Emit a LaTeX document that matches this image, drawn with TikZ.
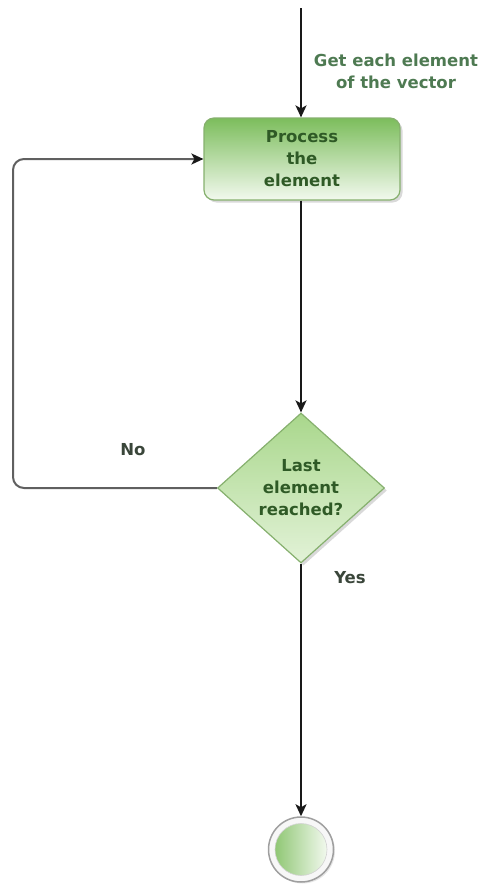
\documentclass[tikz,border=0pt]{standalone}
\usepackage{fontspec}
\setmainfont{DejaVu Sans}
\usetikzlibrary{arrows.meta,shapes.geometric,shadows}

\definecolor{boxtop}{HTML}{7CBD5C}
\definecolor{boxbot}{HTML}{F2F9EE}
\definecolor{diatop}{HTML}{A9D78C}
\definecolor{diabot}{HTML}{E2F2D7}
\definecolor{edgegreen}{HTML}{86B06E}
\definecolor{darktext}{HTML}{2F5A26}
\definecolor{labeltext}{HTML}{4E7A52}
\definecolor{plaintext}{HTML}{3A463A}
\definecolor{loopgray}{HTML}{606060}

\tikzset{
  x=1pt, y=-1pt,
  every node/.style={font=\fontsize{16.5}{22}\selectfont\bfseries, align=center},
  procbox/.style={rectangle, rounded corners=10pt, draw=edgegreen, line width=1.2pt,
    top color=boxtop, bottom color=boxbot, text=darktext,
    minimum width=196pt, minimum height=82pt, inner sep=0pt,
    drop shadow={opacity=0.3, shadow xshift=2.5pt, shadow yshift=-2.5pt}},
  decbox/.style={diamond, draw=edgegreen, line width=1.2pt,
    top color=diatop, bottom color=diabot, text=darktext,
    minimum width=167pt, minimum height=150pt, inner sep=0pt,
    drop shadow={opacity=0.3, shadow xshift=2.5pt, shadow yshift=-2.5pt}},
  endring/.style={circle, draw=gray!75, line width=1.5pt, fill=gray!6,
    minimum size=65pt, inner sep=0pt,
    drop shadow={opacity=0.2, shadow xshift=1.5pt, shadow yshift=-1.5pt}},
  endcore/.style={circle, left color=boxtop!85, right color=boxbot,
    draw=gray!35, line width=0.6pt, minimum size=52pt, inner sep=0pt},
  flow/.style={draw=black!90, line width=2pt,
    -{Stealth[length=12pt,width=11pt,inset=3pt]}},
  loopback/.style={draw=loopgray, line width=2pt, rounded corners=11pt,
    -{Stealth[length=12pt,width=11pt,inset=3pt,color=black!90]}},
  lbl/.style={text=labeltext},
  plainlbl/.style={text=plaintext}
}

\begin{document}
\begin{tikzpicture}
  \useasboundingbox (0,0) rectangle (481,886);

  % nodes of the flow
  \coordinate (start) at (301,8);
  \node[procbox] (proc) at (302,159) {Process\\the\\element};
  \node[decbox] (dec) at (301,488) {Last\\element\\reached?};
  \node[endring] (end) at (301,849.5) {};
  \node[endcore] (endin) at (end.center) {};
  \coordinate (loopx) at (13,0);

  % labels
  \node[lbl] (getlbl) at (396,71) {Get each element\\of the vector};
  \node[plainlbl] (nolbl) at (133,450) {No};
  \node[plainlbl] (yeslbl) at (350,578) {Yes};

  % connectors
  \draw[flow] (start) -- (start |- proc.north);
  \draw[flow] (proc.south -| dec.north) -- (dec.north);
  \draw[flow] (dec.south) -- (end.north);
  \draw[loopback] (dec.west) -| (loopx |- proc.west) -- (proc.west);
\end{tikzpicture}
\end{document}
